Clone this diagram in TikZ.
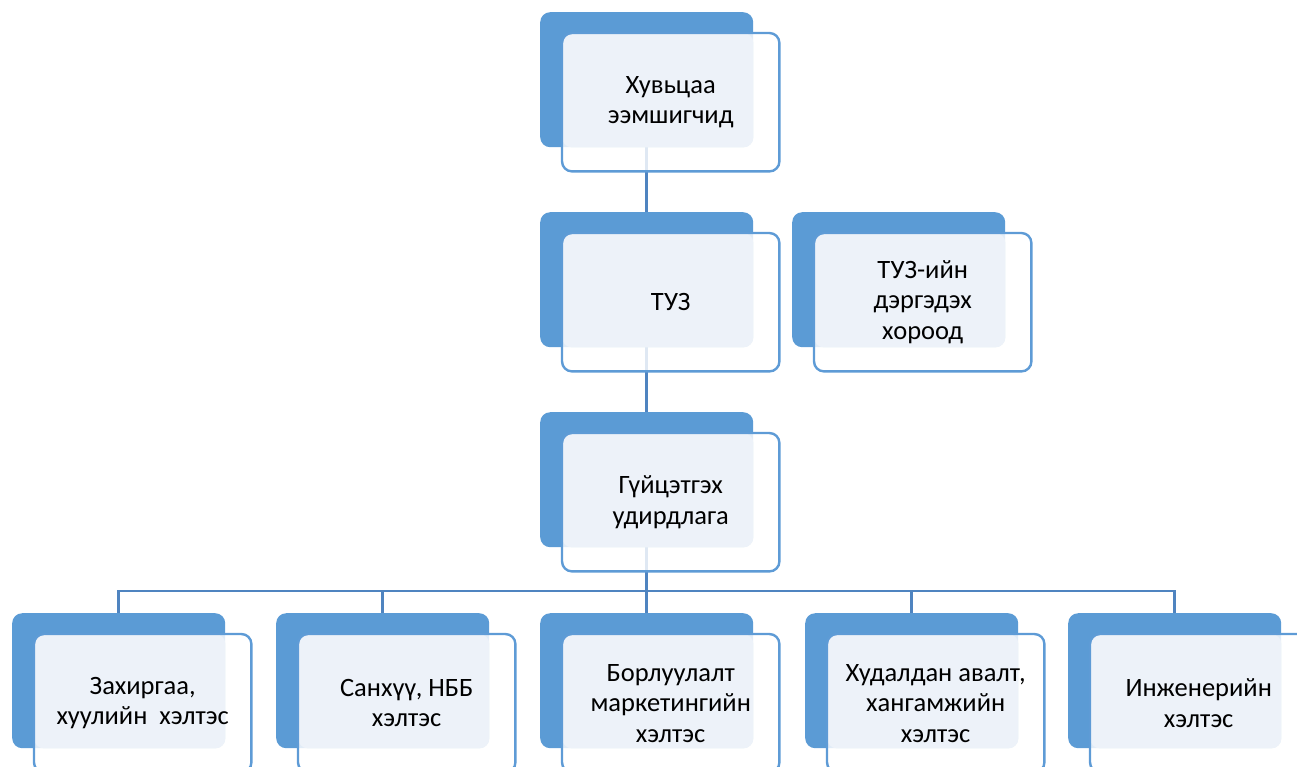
\documentclass[tikz,border=0pt]{standalone}
\usepackage{fontspec}
\setmainfont{Carlito}
\usetikzlibrary{backgrounds}
\definecolor{darkblue}{HTML}{5B9BD5}
\definecolor{edgeblue}{HTML}{5E9BD6}
\definecolor{lightbg}{HTML}{EDF2F9}
\definecolor{linkblue}{HTML}{4F84C0}
\tikzset{
  darkbox/.style={anchor=north west, minimum width=213pt, minimum height=135pt, inner sep=0pt,
    rounded corners=10pt, fill=darkblue, draw=none},
  frontshape/.style={anchor=north west, minimum width=217pt, minimum height=138pt, inner sep=0pt,
    rounded corners=10pt, fill=white, fill opacity=0.82, draw=none},
  lightfill/.style={fill=lightbg, rounded corners=10pt},
  frontline/.style={draw=edgeblue, line width=2.4pt, rounded corners=10pt},
  labeltext/.style={align=center, inner sep=0pt, text=black, font=\fontsize{26.5}{30.5}\selectfont},
  link/.style={draw=linkblue, line width=2.8pt}
}
\newcommand\orgunit[4]{%
  \node[darkbox] (#1-bg) at (#2pt,-#3pt) {};
  \node[frontshape] (#1) at ({#2pt+22pt},{-#3pt-21pt}) {};
  \fill[lightfill] (#1.north west) rectangle (#1-bg.south east);
  \draw[frontline] (#1.north west) rectangle (#1.south east);
  \node[labeltext] (#1-t) at (#1.center) {#4};
}
\begin{document}
\begin{tikzpicture}[x=1pt,y=1pt]
\useasboundingbox (0,0) rectangle (1297,-766);
\clip (0,0) rectangle (1297,-766);
\orgunit{sh}{540}{12}{Хувьцаа\\ээмшигчид}
\orgunit{tuz}{540}{212}{ТУЗ}
\orgunit{com}{792}{212}{ТУЗ-ийн\\дэргэдэх\\хороод}
\orgunit{gu}{540}{412}{Гүйцэтгэх\\удирдлага}
\orgunit{b1}{12}{613}{Захиргаа,\\хуулийн~ хэлтэс}
\orgunit{b2}{276}{613}{Санхүү, НББ\\хэлтэс}
\orgunit{b3}{540}{613}{Борлуулалт\\маркетингийн\\хэлтэс}
\orgunit{b4}{805}{613}{Худалдан авалт,\\хангамжийн\\хэлтэс}
\orgunit{b5}{1068}{613}{Инженерийн\\хэлтэс}
\begin{pgfonlayer}{background}
  \draw[link] (sh-bg.south) -- (tuz-bg.north);
  \draw[link] (tuz-bg.south) -- (gu-bg.north);
  \draw[link] (gu-bg.south) -- (b3-bg.north);
  \draw[link] (b1-bg.north) -- ++(0,22) coordinate (busl) -| (b5-bg.north);
  \draw[link] (b2-bg.north) -- ++(0,22);
  \draw[link] (b4-bg.north) -- ++(0,22);
\end{pgfonlayer}
\end{tikzpicture}
\end{document}
